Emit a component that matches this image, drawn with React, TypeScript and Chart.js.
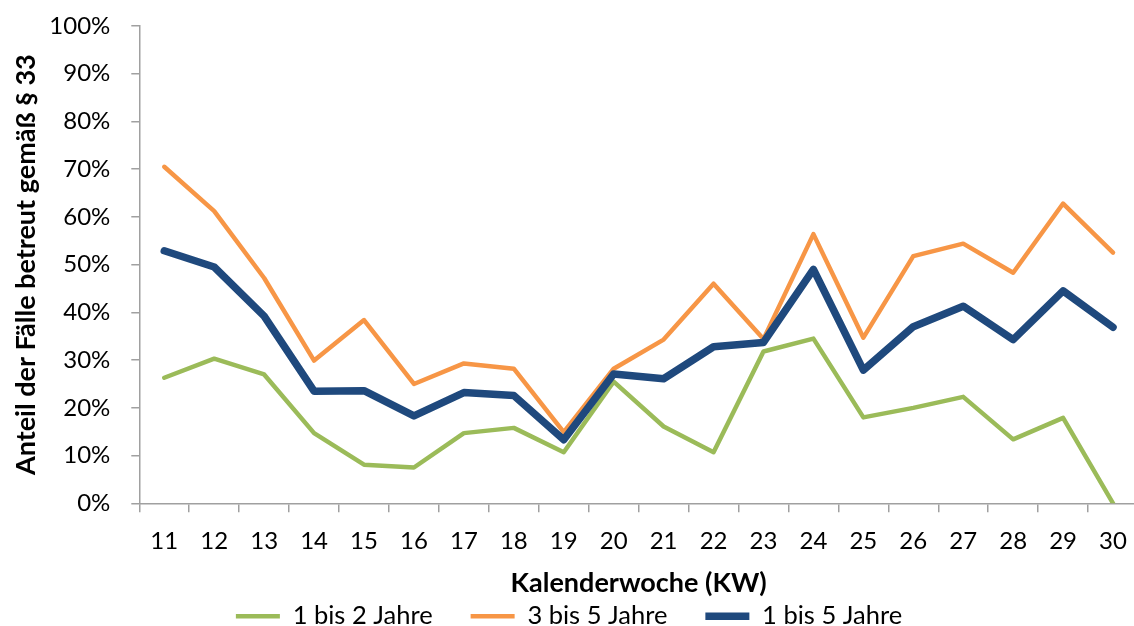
import React, { useEffect, useRef } from 'react';
import { Chart, registerables } from 'chart.js';

Chart.register(...registerables);

const weeks = ['11', '12', '13', '14', '15', '16', '17', '18', '19', '20', '21', '22', '23', '24', '25', '26', '27', '28', '29', '30'];
const jahre1bis2 = [26.3, 30.3, 27.0, 14.7, 8.1, 7.5, 14.7, 15.8, 10.7, 25.5, 16.1, 10.7, 31.8, 34.5, 18.0, 20.0, 22.3, 13.4, 17.9, 0];
const jahre3bis5 = [70.5, 61.2, 47.2, 29.9, 38.4, 25.0, 29.3, 28.2, 14.9, 28.2, 34.3, 46.0, 34.4, 56.4, 34.7, 51.8, 54.4, 48.3, 62.8, 52.5];
const jahre1bis5 = [52.9, 49.5, 39.2, 23.5, 23.6, 18.3, 23.2, 22.6, 13.3, 27.1, 26.1, 32.8, 33.7, 49.0, 27.9, 37.0, 41.3, 34.3, 44.5, 36.9];
const seriesNames = ['1 bis 2 Jahre', '3 bis 5 Jahre', '1 bis 5 Jahre'];
const yTitle = 'Anteil der Fälle betreut gemäß § 33';
const xTitle = 'Kalenderwoche (KW)';

const FONT = 'Lato, "Open Sans", sans-serif';
const AXIS = '#a0a0a0';

export default function App() {
  const ref = useRef<HTMLCanvasElement | null>(null);

  useEffect(() => {
    if (!ref.current) return;
    const chart = new Chart(ref.current, {
      type: 'line',
      data: {
        labels: weeks,
        datasets: [
          { label: seriesNames[0], data: jahre1bis2, borderColor: '#9BBB59', backgroundColor: '#9BBB59', borderWidth: 4.5, order: 3 },
          { label: seriesNames[1], data: jahre3bis5, borderColor: '#F79646', backgroundColor: '#F79646', borderWidth: 4.5, order: 2 },
          { label: seriesNames[2], data: jahre1bis5, borderColor: '#1F497D', backgroundColor: '#1F497D', borderWidth: 7.5, order: 1 },
        ].map((d) => ({ ...d, pointRadius: 0, pointHoverRadius: 0, tension: 0, borderCapStyle: 'round' as const, borderJoinStyle: 'round' as const, fill: false })),
      },
      options: {
        animation: false,
        responsive: false,
        devicePixelRatio: 1,
        layout: { padding: { top: 26, right: 0, bottom: 0, left: 0 } },
        plugins: {
          tooltip: { enabled: false },
          legend: {
            position: 'bottom',
            labels: {
              usePointStyle: true,
              pointStyle: 'line',
              pointStyleWidth: 44,
              padding: 38,
              color: '#000',
              font: { family: FONT, size: 25.5 },
              sort: (a: any, b: any) => a.datasetIndex - b.datasetIndex,
            },
          },
        },
        scales: {
          x: {
            offset: true,
            afterFit: (s: any) => { s.height = 62.2; s.paddingLeft = 0; s.paddingRight = 0; },
            grid: { offset: true, drawOnChartArea: false, drawTicks: true, tickLength: 9, color: AXIS, lineWidth: 1.5 },
            border: { display: true, color: AXIS, width: 1.5 },
            ticks: { color: '#000', font: { family: FONT, size: 24 }, padding: 15, maxRotation: 0, autoSkip: false },
            title: { display: true, text: xTitle, color: '#000', font: { family: FONT, size: 27, weight: 'bold' }, padding: { top: 0, bottom: -34 } },
          },
          y: {
            min: 0,
            max: 100,
            afterFit: (s: any) => { s.width = 139.3; s.paddingTop = 0; s.paddingBottom = 0; },
            grid: { drawOnChartArea: false, drawTicks: true, tickLength: 8, color: AXIS, lineWidth: 1.5 },
            border: { display: true, color: AXIS, width: 1.5 },
            ticks: { stepSize: 10, color: '#000', font: { family: FONT, size: 24 }, padding: 21, callback: (v: any) => v + '%' },
            title: { display: true, text: yTitle, color: '#000', font: { family: FONT, size: 27, weight: 'bold' }, padding: { top: 10, bottom: 0 } },
          },
        },
      } as any,
    });
    return () => chart.destroy();
  }, []);

  return (
    <canvas
      ref={ref}
      width={1138}
      height={639}
      style={{ position: 'fixed', left: 0, top: 0, width: 1138, height: 639, background: '#fff' }}
    />
  );
}
